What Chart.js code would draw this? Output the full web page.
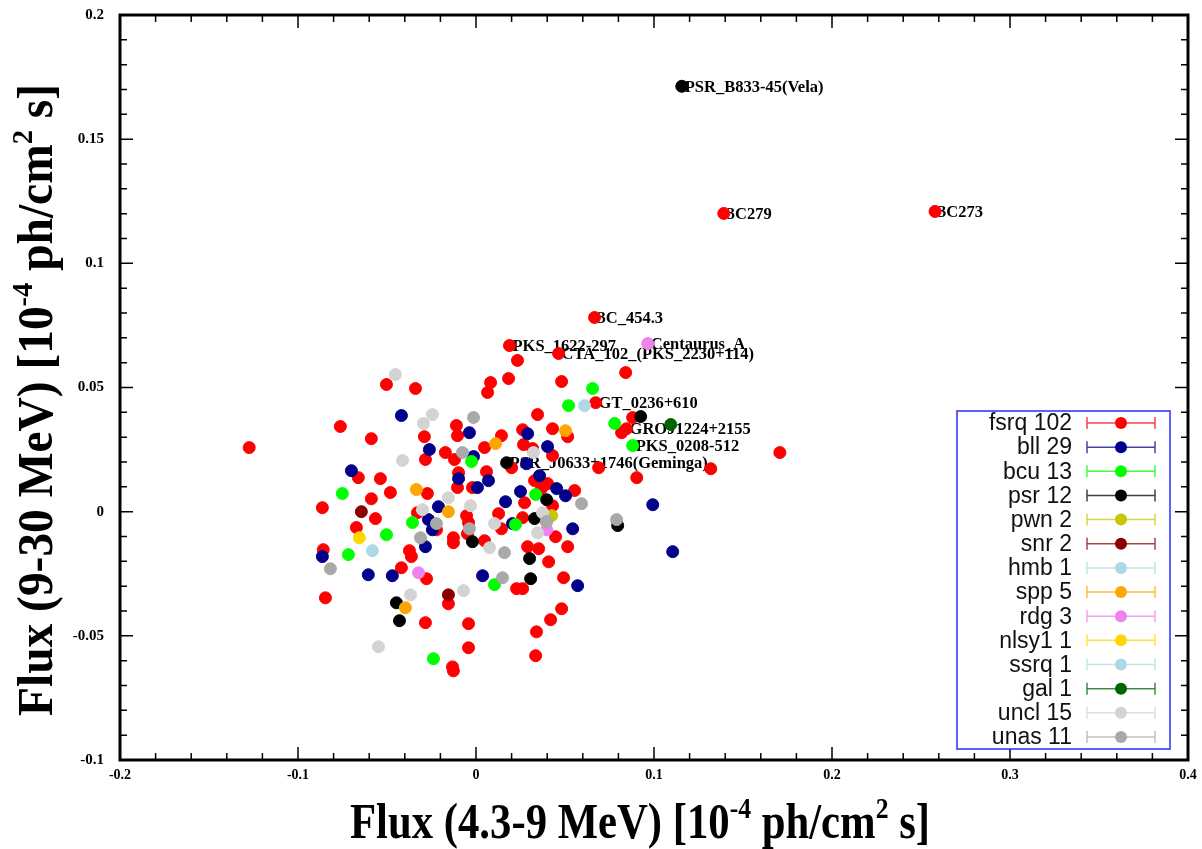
<!DOCTYPE html>
<html>
<head>
<meta charset="utf-8">
<script src="https://cdn.jsdelivr.net/npm/chart.js@4.4.1/dist/chart.umd.min.js"></script>
<style>
  html, body { margin: 0; padding: 0; background: #fff; }
  canvas { display: block; }
</style>
</head>
<body>
<canvas id="canvas" width="1202" height="849"></canvas>
<script>
// source classes, in legend order
const categories = ['fsrq 102', 'bll 29', 'bcu 13', 'psr 12', 'pwn 2', 'snr 2', 'hmb 1', 'spp 5', 'rdg 3', 'nlsy1 1', 'ssrq 1', 'gal 1', 'uncl 15', 'unas 11'];
const colors = ['#ff0000', '#00008b', '#00ff00', '#000000', '#c8c800', '#8b0000', '#add8e6', '#ffa500', '#ee82ee', '#ffd700', '#add8e6', '#006400', '#d3d3d3', '#a9a9a9'];

// [flux 4.3-9 MeV, flux 9-30 MeV]
const fsrq = [
  [0.1392, 0.1201], [0.2579, 0.1209], [0.0666, 0.0782], [0.0188, 0.0669], [0.0464, 0.0637],
  [0.0233, 0.0609], [0.0841, 0.0560], [0.0082, 0.0520], [0.0183, 0.0536], [0.0065, 0.0480],
  [0.0481, 0.0524], [0.0672, 0.0439], [0.0880, 0.0379], [0.0346, 0.0391], [0.0846, 0.0334],
  [0.0818, 0.0318], [0.0430, 0.0334], [0.0515, 0.0302], [0.0262, 0.0330], [0.0143, 0.0306],
  [0.0048, 0.0258], [0.0267, 0.0270], [0.0318, 0.0254], [0.0430, 0.0226], [0.1707, 0.0238],
  [0.0200, 0.0177], [0.0689, 0.0177], [0.1319, 0.0173], [0.0903, 0.0137], [0.0059, 0.0161],
  [-0.0503, 0.0512], [-0.0340, 0.0496], [-0.0110, 0.0347], [-0.0104, 0.0306], [-0.0290, 0.0302],
  [-0.0762, 0.0343], [-0.0588, 0.0294], [-0.1274, 0.0258], [-0.0172, 0.0238], [-0.0284, 0.0210],
  [-0.0121, 0.0210], [-0.0661, 0.0137], [-0.0537, 0.0133], [-0.0098, 0.0157], [-0.0104, 0.0097],
  [-0.0020, 0.0097], [-0.0481, 0.0077], [-0.0588, 0.0052], [-0.0273, 0.0073], [-0.0863, 0.0016],
  [-0.0565, -0.0028], [-0.0672, -0.0064], [-0.0329, -0.0004], [-0.0222, -0.0073], [-0.0374, -0.0157],
  [-0.0127, -0.0105], [-0.0127, -0.0125], [-0.0053, -0.0016], [-0.0042, -0.0044], [0.0048, -0.0117],
  [0.0329, 0.0125], [0.0402, 0.0113], [0.0554, 0.0085], [0.0430, 0.0024], [0.0273, 0.0036],
  [0.0127, -0.0008], [0.0262, -0.0024], [0.0143, -0.0069], [0.0447, -0.0101], [0.0515, -0.0141],
  [0.0290, -0.0141], [0.0352, -0.0149], [0.0408, -0.0202], [0.0492, -0.0266], [-0.0858, -0.0153],
  [-0.0363, -0.0181], [-0.0419, -0.0226], [-0.0278, -0.0270], [-0.0846, -0.0347], [-0.0155, -0.0371],
  [-0.0284, -0.0447], [-0.0042, -0.0451], [-0.0132, -0.0625], [-0.0127, -0.0641], [-0.0042, -0.0548],
  [0.0228, -0.0310], [0.0262, -0.0310], [0.0481, -0.0391], [0.0419, -0.0435], [0.0340, -0.0484],
  [0.0335, -0.0580], [-0.0048, -0.0089], [0.0368, 0.0093]
];
const bll = [
  [-0.0419, 0.0387], [-0.0037, 0.0318], [0.0290, 0.0314], [0.0402, 0.0262], [-0.0262, 0.0250],
  [-0.0014, 0.0222], [0.0284, 0.0193], [0.0357, 0.0145], [-0.0098, 0.0133], [0.0070, 0.0125],
  [0.0008, 0.0097], [-0.0700, 0.0165], [0.0453, 0.0093], [0.0503, 0.0064], [0.0250, 0.0081],
  [0.0166, 0.0040], [-0.0211, 0.0020], [-0.0267, -0.0032], [-0.0245, -0.0073], [-0.0284, -0.0141],
  [0.0205, -0.0048], [0.0543, -0.0069], [0.0993, 0.0028], [0.1105, -0.0161], [-0.0863, -0.0181],
  [-0.0605, -0.0254], [-0.0470, -0.0258], [0.0037, -0.0258], [0.0571, -0.0298]
];
const bcu = [
  [0.0655, 0.0496], [0.0520, 0.0427], [0.0779, 0.0355], [0.0880, 0.0266], [-0.0025, 0.0202],
  [0.0335, 0.0069], [0.0222, -0.0052], [-0.0357, -0.0044], [-0.0503, -0.0093], [-0.0751, 0.0073],
  [-0.0717, -0.0173], [0.0104, -0.0294], [-0.0239, -0.0592]
];
const psr = [
  [0.1156, 0.1713], [0.0925, 0.0383], [0.0172, 0.0197], [0.0397, 0.0048], [0.0329, -0.0028],
  [-0.0020, -0.0121], [0.0301, -0.0189], [0.0307, -0.0270], [0.0796, -0.0056], [-0.0447, -0.0367],
  [-0.0430, -0.0439]
];
const pwn = [[0.0425, -0.0016], [0.0395, -0.0042]];
const snr = [[-0.0644, 0.0000], [-0.0155, -0.0335]];
const hmb = [[0.0610, 0.0427]];
const spp = [[0.0503, 0.0326], [0.0110, 0.0274], [-0.0335, 0.0089], [-0.0155, 0.0000], [-0.0397, -0.0387]];
const rdg = [[0.0965, 0.0677], [-0.0323, -0.0246], [0.0397, -0.0073]];
const nlsy1 = [[-0.0655, -0.0105]];
const ssrq = [[-0.0582, -0.0157]];
const gal = [[0.1094, 0.0351]];
const uncl = [
  [-0.0453, 0.0552], [-0.0245, 0.0391], [-0.0295, 0.0355], [-0.0413, 0.0206], [0.0323, 0.0238],
  [-0.0155, 0.0056], [-0.0031, 0.0024], [-0.0301, 0.0008], [0.0104, -0.0048], [0.0374, -0.0004],
  [0.0346, -0.0085], [0.0076, -0.0145], [-0.0368, -0.0335], [-0.0070, -0.0318], [-0.0548, -0.0544]
];
const unas = [
  [-0.0014, 0.0379], [-0.0076, 0.0238], [-0.0222, -0.0048], [-0.0312, -0.0105], [-0.0037, -0.0069],
  [0.0160, -0.0165], [0.0593, 0.0032], [0.0397, -0.0040], [0.0790, -0.0032], [-0.0818, -0.0230],
  [0.0149, -0.0266]
];
const seriesList = [fsrq, bll, bcu, psr, pwn, snr, hmb, spp, rdg, nlsy1, ssrq, gal, uncl, unas];

// named sources, at the position of their point
const namedSources = [
  ['PSR_B833-45(Vela)', 0.1156, 0.1713],
  ['3C279', 0.1392, 0.1201],
  ['3C273', 0.2579, 0.1209],
  ['3C_454.3', 0.0666, 0.0782],
  ['PKS_1622-297', 0.0188, 0.0669],
  ['CTA_102_(PKS_2230+114)', 0.0464, 0.0637],
  ['Centaurus_A', 0.0965, 0.0677],
  ['GT_0236+610', 0.0672, 0.0439],
  ['GROJ1224+2155', 0.0846, 0.0334],
  ['PKS_0208-512', 0.0880, 0.0266],
  ['PSR_J0633+1746(Geminga)', 0.0172, 0.0197]
];

const xTitle = [['Flux (4.3-9 MeV) [10', false], ['-4', true], [' ph/cm', false], ['2', true], [' s]', false]];
const yTitle = [['Flux (9-30 MeV) [10', false], ['-4', true], [' ph/cm', false], ['2', true], [' s]', false]];

const SERIF = '"Liberation Serif", "Times New Roman", serif';

function drawRich(ctx, parts, size, targetW) {
  const widths = parts.map(p => {
    ctx.font = 'bold ' + (p[1] ? size * 0.6 : size) + 'px ' + SERIF;
    return ctx.measureText(p[0]).width;
  });
  const total = widths.reduce((a, b) => a + b, 0);
  ctx.scale(targetW / total, 1);
  let cx = -total / 2;
  parts.forEach((p, i) => {
    ctx.font = 'bold ' + (p[1] ? size * 0.6 : size) + 'px ' + SERIF;
    ctx.fillText(p[0], cx, p[1] ? -size * 0.4 : 0);
    cx += widths[i];
  });
}

const fmt = v => String(Number(v.toFixed(2)));

const framePlugin = {
  id: 'framePlugin',
  beforeDatasetsDraw(chart) {
    const { ctx, scales: { x, y } } = chart;
    ctx.save();
    ctx.font = 'bold 16.5px ' + SERIF;
    ctx.fillStyle = '#000';
    ctx.textBaseline = 'middle';
    ctx.textAlign = 'left';
    namedSources.forEach(([name, vx, vy]) => {
      ctx.fillText(name, x.getPixelForValue(vx) + 3, y.getPixelForValue(vy) + 1);
    });
    ctx.restore();
  },
  afterDraw(chart) {
    const { ctx, chartArea: a, scales: { x, y } } = chart;
    ctx.save();
    // inward ticks on all four sides
    ctx.strokeStyle = '#000';
    ctx.lineWidth = 1.5;
    ctx.beginPath();
    for (let i = 0; i <= 30; i++) {
      const px = x.getPixelForValue(-0.2 + i * 0.02);
      const len = i % 5 === 0 ? 13 : 7;
      ctx.moveTo(px, a.bottom); ctx.lineTo(px, a.bottom - len);
      ctx.moveTo(px, a.top); ctx.lineTo(px, a.top + len);
    }
    for (let i = 0; i <= 30; i++) {
      const py = y.getPixelForValue(-0.1 + i * 0.01);
      const len = i % 5 === 0 ? 13 : 7;
      ctx.moveTo(a.left, py); ctx.lineTo(a.left + len, py);
      ctx.moveTo(a.right, py); ctx.lineTo(a.right - len, py);
    }
    ctx.stroke();
    ctx.lineWidth = 3;
    ctx.strokeRect(a.left, a.top, a.right - a.left, a.bottom - a.top);

    // tick labels from the scales' own ticks
    ctx.fillStyle = '#000';
    ctx.font = 'bold 14px ' + SERIF;
    ctx.textAlign = 'center';
    ctx.textBaseline = 'top';
    x.ticks.forEach(t => ctx.fillText(fmt(t.value), x.getPixelForValue(t.value), a.bottom + 8));
    ctx.font = 'bold 15px ' + SERIF;
    ctx.textAlign = 'right';
    ctx.textBaseline = 'middle';
    y.ticks.forEach(t => ctx.fillText(fmt(t.value), a.left - 16, y.getPixelForValue(t.value)));

    // legend with error-bar style keys
    const bx = 957, by = 411, bw = 213, bh = 338;
    ctx.fillStyle = '#fff';
    ctx.fillRect(bx, by, bw, bh);
    ctx.strokeStyle = '#2b2bff';
    ctx.lineWidth = 1.5;
    ctx.strokeRect(bx, by, bw, bh);
    ctx.font = '23px "Liberation Sans", Arial, sans-serif';
    ctx.textAlign = 'right';
    ctx.textBaseline = 'middle';
    categories.forEach((name, i) => {
      const ly = 423 + i * 24.15;
      ctx.fillStyle = '#111';
      ctx.fillText(name, 1072, ly + 1);
      ctx.strokeStyle = colors[i];
      ctx.globalAlpha = 0.75;
      ctx.lineWidth = 1.5;
      ctx.beginPath();
      ctx.moveTo(1087, ly); ctx.lineTo(1155, ly);
      ctx.moveTo(1087, ly - 6); ctx.lineTo(1087, ly + 6);
      ctx.moveTo(1155, ly - 6); ctx.lineTo(1155, ly + 6);
      ctx.stroke();
      ctx.globalAlpha = 1;
      ctx.fillStyle = colors[i];
      ctx.beginPath();
      ctx.arc(1121, ly, 6, 0, Math.PI * 2);
      ctx.fill();
    });

    // axis titles
    ctx.fillStyle = '#000';
    ctx.textAlign = 'left';
    ctx.textBaseline = 'alphabetic';
    ctx.save();
    ctx.translate(640, 838);
    drawRich(ctx, xTitle, 50, 580);
    ctx.restore();
    ctx.save();
    ctx.translate(52, 400);
    ctx.rotate(-Math.PI / 2);
    drawRich(ctx, yTitle, 50, 632);
    ctx.restore();
    ctx.restore();
  }
};

new Chart(document.getElementById('canvas'), {
  type: 'scatter',
  data: {
    datasets: seriesList.map((pts, i) => ({
      label: categories[i],
      data: pts.map(p => ({ x: p[0], y: p[1] })),
      backgroundColor: colors[i],
      borderColor: colors[i],
      borderWidth: 1,
      pointRadius: 6,
      pointHoverRadius: 6,
      order: -i
    }))
  },
  options: {
    responsive: false,
    devicePixelRatio: 1,
    animation: false,
    layout: { padding: { top: 15, right: 14, left: 120, bottom: 89 } },
    plugins: { legend: { display: false }, tooltip: { enabled: false } },
    scales: {
      x: {
        type: 'linear', min: -0.2, max: 0.4,
        grid: { display: false, drawTicks: false },
        border: { display: false },
        ticks: { display: false, stepSize: 0.1 }
      },
      y: {
        type: 'linear', min: -0.1, max: 0.2,
        grid: { display: false, drawTicks: false },
        border: { display: false },
        ticks: { display: false, stepSize: 0.05 }
      }
    }
  },
  plugins: [framePlugin]
});
</script>
</body>
</html>
